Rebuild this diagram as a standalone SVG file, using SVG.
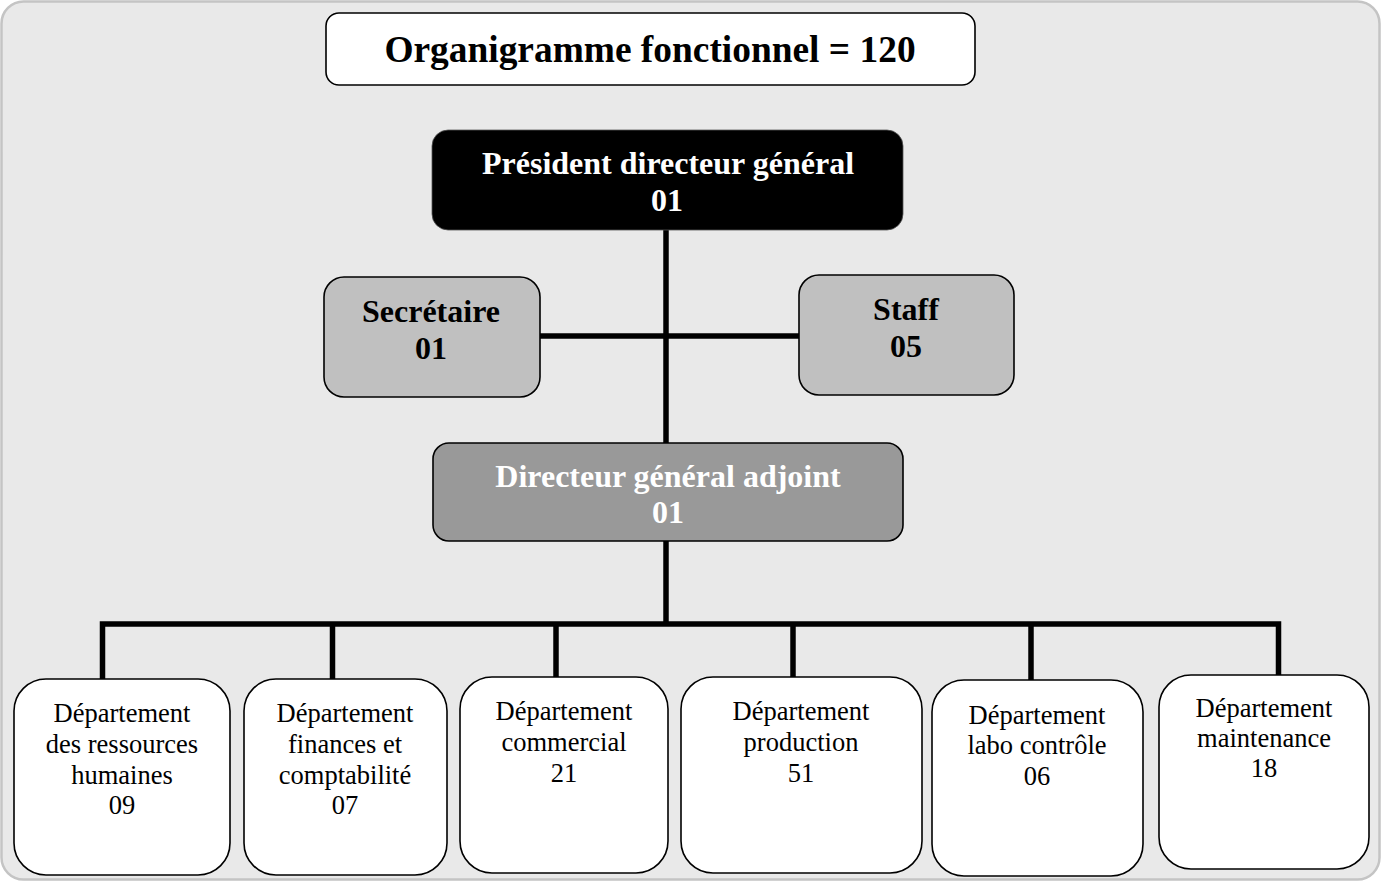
<svg xmlns="http://www.w3.org/2000/svg" width="1382" height="884" viewBox="0 0 1382 884">
<style>
.bold{font-family:"Liberation Serif","Times New Roman",serif;font-weight:bold;text-anchor:middle}
.reg{font-family:"Liberation Serif","Times New Roman",serif;font-size:26.5px;text-anchor:middle;fill:#000}
.dept{fill:#ffffff;stroke:#000;stroke-width:1.6}
.conn{stroke:#000;stroke-width:5.5;fill:none;stroke-linecap:butt}
</style>
<rect x="1.5" y="1.5" width="1378" height="878" rx="22" fill="#e9e9e9" stroke="#c4c4c4" stroke-width="2.5"/>
<g id="title">
<rect x="326" y="13" width="649" height="72" rx="13" fill="#ffffff" stroke="#000" stroke-width="1.6"/>
<text class="bold" x="650" y="62" font-size="37.4" fill="#000">Organigramme fonctionnel = 120</text>
</g>
<g id="connectors">
<line class="conn" x1="666" y1="230" x2="666" y2="443"/>
<line class="conn" x1="540" y1="336" x2="799" y2="336"/>
<line class="conn" x1="666" y1="541" x2="666" y2="624"/>
<polyline class="conn" points="102.5,680 102.5,624 1278.5,624 1278.5,676"/>
<line class="conn" x1="332.5" y1="624" x2="332.5" y2="680"/>
<line class="conn" x1="556" y1="624" x2="556" y2="678"/>
<line class="conn" x1="793" y1="624" x2="793" y2="680"/>
<line class="conn" x1="1031" y1="624" x2="1031" y2="681"/>
</g>
<g id="pdg">
<rect x="432" y="130" width="471" height="100" rx="16" fill="#000" stroke="#555" stroke-width="0.8"/>
<text class="bold" x="668" y="174" font-size="32" fill="#fff">Président directeur général</text>
<text class="bold" x="667" y="211" font-size="32" fill="#fff">01</text>
</g>
<g id="secretaire">
<rect x="324" y="277" width="216" height="120" rx="20" fill="#c0c0c0" stroke="#000" stroke-width="1.6"/>
<text class="bold" x="431" y="322" font-size="32" fill="#000">Secrétaire</text>
<text class="bold" x="431" y="359" font-size="32" fill="#000">01</text>
</g>
<g id="staff">
<rect x="799" y="275" width="215" height="120" rx="20" fill="#c0c0c0" stroke="#000" stroke-width="1.6"/>
<text class="bold" x="906" y="320" font-size="32" fill="#000">Staff</text>
<text class="bold" x="906" y="357" font-size="32" fill="#000">05</text>
</g>
<g id="dga">
<rect x="433" y="443" width="470" height="98" rx="16" fill="#999999" stroke="#000" stroke-width="1.6"/>
<text class="bold" x="668" y="487" font-size="32" fill="#fff">Directeur général adjoint</text>
<text class="bold" x="668" y="523" font-size="32" fill="#fff">01</text>
</g>
<g id="dept-rh">
<rect class="dept" x="14" y="679" width="216" height="196" rx="32"/>
<text class="reg" x="122" y="722">Département</text>
<text class="reg" x="122" y="753">des ressources</text>
<text class="reg" x="122" y="784">humaines</text>
<text class="reg" x="122" y="814">09</text>
</g>
<g id="dept-finances">
<rect class="dept" x="244" y="679" width="203" height="196" rx="32"/>
<text class="reg" x="345" y="722">Département</text>
<text class="reg" x="345" y="753">finances et</text>
<text class="reg" x="345" y="784">comptabilité</text>
<text class="reg" x="345" y="814">07</text>
</g>
<g id="dept-commercial">
<rect class="dept" x="460" y="677" width="208" height="196" rx="32"/>
<text class="reg" x="564" y="720">Département</text>
<text class="reg" x="564" y="751">commercial</text>
<text class="reg" x="564" y="782">21</text>
</g>
<g id="dept-production">
<rect class="dept" x="681" y="677" width="241" height="196" rx="32"/>
<text class="reg" x="801" y="720">Département</text>
<text class="reg" x="801" y="751">production</text>
<text class="reg" x="801" y="782">51</text>
</g>
<g id="dept-labo">
<rect class="dept" x="932" y="680" width="211" height="196" rx="32"/>
<text class="reg" x="1037" y="724">Département</text>
<text class="reg" x="1037" y="754">labo contrôle</text>
<text class="reg" x="1037" y="785">06</text>
</g>
<g id="dept-maintenance">
<rect class="dept" x="1159" y="675" width="210" height="194" rx="32"/>
<text class="reg" x="1264" y="717">Département</text>
<text class="reg" x="1264" y="747">maintenance</text>
<text class="reg" x="1264" y="777">18</text>
</g>
</svg>
